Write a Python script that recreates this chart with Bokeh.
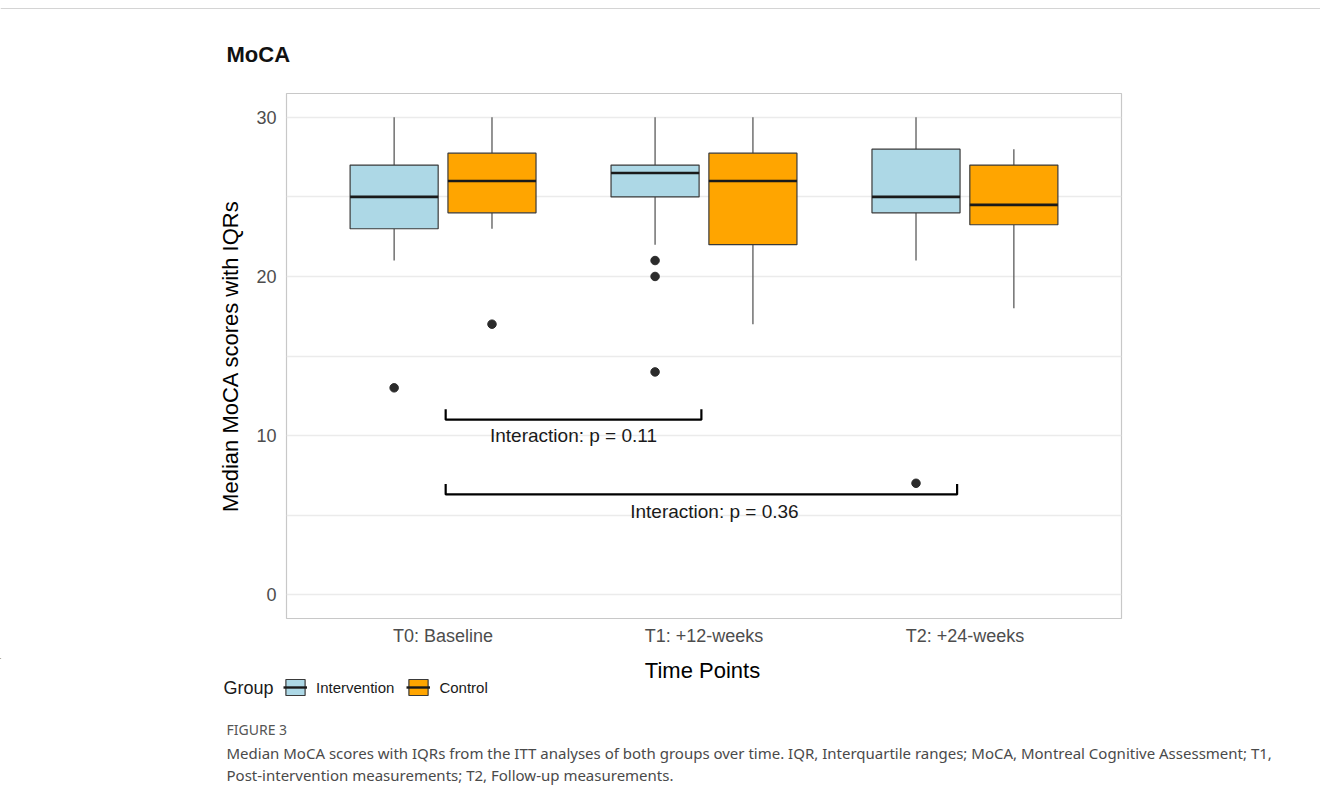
from bokeh.plotting import figure
from bokeh.layouts import column
from bokeh.models import (ColumnDataSource, FixedTicker, Label, Legend, LegendItem, Range1d)
from bokeh.embed import file_html
from bokeh.resources import INLINE
from bokeh.core.properties import value

# ---------------- data ----------------
time_points = ["T0: Baseline", "T1: +12-weeks", "T2: +24-weeks"]
groups = ["Intervention", "Control"]
group_colors = ["#ADD8E6", "#FFA500"]

int_lower = [21, 22, 21]
int_q1 = [23, 25, 24]
int_median = [25, 26.5, 25]
int_q3 = [27, 27, 28]
int_upper = [30, 30, 30]

ctl_lower = [23, 17, 18]
ctl_q1 = [24, 22, 23.25]
ctl_median = [26, 26, 24.5]
ctl_q3 = [27.75, 27.75, 27]
ctl_upper = [30, 30, 28]

int_outlier_time = [0, 1, 1, 1, 2]
int_outlier_value = [13, 21, 20, 14, 7]
ctl_outlier_time = [0]
ctl_outlier_value = [17]

interaction_labels = ["Interaction: p = 0.11", "Interaction: p = 0.36"]
bracket_start = [1.01, 1.01]
bracket_end = [1.99, 2.97]
bracket_y = [11.0, 6.3]
interaction_label_x = [1.5, 2.04]
interaction_label_y = [10.0, 5.2]

title_text = "MoCA"
figure_tag = "FIGURE 3"
caption_lines = [
    "Median MoCA scores with IQRs from the ITT analyses of both groups over time. "
    "IQR, Interquartile ranges; MoCA, Montreal Cognitive Assessment; T1,",
    "Post-intervention measurements; T2, Follow-up measurements.",
]

# ---------------- layout constants ----------------
FONT = "Liberation Sans"
CAP_FONT = "Noto Sans"
DODGE = 0.1875
BOX_W = 0.3375
TIP = 0.65
W = 1320
TOP_H = 91
MAIN_H = 567
BOT_H = 148


def plain_fig(h):
    f = figure(width=W, height=h, x_range=Range1d(0, W), y_range=Range1d(h, 0),
               output_backend="svg", toolbar_location=None, frame_align=False,
               min_border=0, min_border_left=0, min_border_right=0,
               min_border_top=0, min_border_bottom=0)
    f.axis.visible = False
    f.grid.visible = False
    f.outline_line_color = None
    return f


# ---------------- top strip: rule + title ----------------
top = plain_fig(TOP_H)
top.segment(x0=0, y0=8, x1=W, y1=8, line_color="#d4d4d4", line_width=1)
top.add_layout(Label(x=226, y=54, text=title_text, text_font=FONT, text_font_size="22px",
                     text_font_style="bold", text_color="#111111", text_baseline="middle"))

# ---------------- main chart ----------------
fig = figure(width=W, height=MAIN_H, x_range=Range1d(0.4, 3.6), y_range=Range1d(-1.5, 31.5),
             output_backend="svg", toolbar_location=None, frame_align=False,
             min_border_left=286, min_border_right=W - 1121, min_border_top=2, min_border_bottom=40)

fig.background_fill_color = "white"
fig.outline_line_color = "#c8c8c8"
fig.outline_line_width = 1.2

fig.xgrid.grid_line_color = None
fig.yaxis.ticker = FixedTicker(ticks=[0, 10, 20, 30], minor_ticks=[5, 15, 25])
fig.ygrid.grid_line_color = "#ebebeb"
fig.ygrid.grid_line_width = 1.3
fig.ygrid.minor_grid_line_color = "#ebebeb"
fig.ygrid.minor_grid_line_width = 1.3

fig.xaxis.ticker = FixedTicker(ticks=[1, 2, 3])
fig.xaxis.major_label_overrides = {i + 1: t for i, t in enumerate(time_points)}
for ax in (fig.xaxis[0], fig.yaxis[0]):
    ax.axis_line_color = None
    ax.major_tick_line_color = None
    ax.minor_tick_line_color = None
    ax.major_tick_out = 0
    ax.major_tick_in = 0
    ax.minor_tick_out = 0
    ax.minor_tick_in = 0
    ax.major_label_text_font = FONT
    ax.major_label_text_font_size = "18px"
    ax.major_label_text_color = "#4d4d4d"
    ax.axis_label_text_font = FONT
    ax.axis_label_text_font_size = "22px"
    ax.axis_label_text_font_style = "normal"
    ax.axis_label_text_color = "#000000"
fig.yaxis.axis_label = "Median MoCA scores with IQRs"
fig.xaxis.major_label_standoff = 7
fig.yaxis.major_label_standoff = 10
fig.yaxis.axis_label_standoff = 10

series = [
    (int_lower, int_q1, int_median, int_q3, int_upper, -DODGE, group_colors[0]),
    (ctl_lower, ctl_q1, ctl_median, ctl_q3, ctl_upper, DODGE, group_colors[1]),
]
for lower, q1, med, q3, upper, off, col in series:
    xs = [i + 1 + off for i in range(len(time_points))]
    src = ColumnDataSource(dict(x=xs, lower=lower, q1=q1, med=med, q3=q3, upper=upper,
                                xl=[x - BOX_W / 2 for x in xs], xr=[x + BOX_W / 2 for x in xs]))
    fig.segment(x0="x", y0="q3", x1="x", y1="upper", source=src, line_color="#5a5a5a", line_width=1.3)
    fig.segment(x0="x", y0="q1", x1="x", y1="lower", source=src, line_color="#5a5a5a", line_width=1.3)
    fig.vbar(x="x", width=BOX_W, bottom="q1", top="q3", source=src,
             fill_color=col, line_color="#3a3a3a", line_width=1.2)
    fig.segment(x0="xl", y0="med", x1="xr", y1="med", source=src,
                line_color="#1a1a1a", line_width=2.6)

fig.scatter(x=[t + 1 - DODGE for t in int_outlier_time], y=int_outlier_value,
            size=8.5, color="#2b2b2b")
fig.scatter(x=[t + 1 + DODGE for t in ctl_outlier_time], y=ctl_outlier_value,
            size=8.5, color="#2b2b2b")

fig.multi_line(xs=[[a, a, b, b] for a, b in zip(bracket_start, bracket_end)],
               ys=[[y + TIP, y, y, y + TIP] for y in bracket_y],
               line_color="#000000", line_width=2.2)
fig.text(x=interaction_label_x, y=interaction_label_y, text=interaction_labels,
         text_font=value(FONT), text_font_size="19px", text_color="#1a1a1a",
         text_align="center", text_baseline="middle")

# ---------------- bottom strip: x title, legend, caption ----------------
BT = TOP_H + MAIN_H  # page y of the bottom strip
bot = plain_fig(BOT_H)
bot.add_layout(Label(x=702, y=670 - BT, text="Time Points", text_font=FONT, text_font_size="22px",
                     text_color="#000000", text_align="center", text_baseline="middle"))
bot.add_layout(Label(x=223, y=687 - BT, text="Group", text_font=FONT, text_font_size="18px",
                     text_color="#1a1a1a", text_baseline="middle"))

# legend proxies (kept outside the visible range of this strip)
legend_items = []
for g, col in zip(groups, group_colors):
    proxy = ColumnDataSource(dict(x=[-500], y0=[-500], y1=[-499], xl=[-501], xr=[-499], m=[-499.5]))
    b = bot.vbar(x="x", width=1, bottom="y0", top="y1", source=proxy,
                 fill_color=col, line_color="#3a3a3a", line_width=1.2)
    m = bot.segment(x0="xl", y0="m", x1="xr", y1="m", source=proxy,
                    line_color="#1a1a1a", line_width=2.4)
    legend_items.append(LegendItem(label=g, renderers=[b, m]))

legend = Legend(items=legend_items, location=(283, BOT_H - (697 - BT)), orientation="horizontal")
legend.border_line_color = None
legend.background_fill_alpha = 0
legend.padding = 0
legend.margin = 0
legend.spacing = 12
legend.glyph_width = 24
legend.glyph_height = 20
legend.label_standoff = 9
legend.label_text_font = FONT
legend.label_text_font_size = "15px"
legend.label_text_color = "#1a1a1a"
bot.add_layout(legend)

bot.add_layout(Label(x=226, y=729 - BT, text=figure_tag, text_font=CAP_FONT,
                     text_font_size="14px", text_color="#555555", text_baseline="middle"))
for line, py in zip(caption_lines, [752, 774]):
    bot.add_layout(Label(x=226, y=py - BT, text=line, text_font=CAP_FONT, text_font_size="15px",
                         text_color="#4a4a4a", text_baseline="middle"))

p = column(top, fig, bot, spacing=0)
open("out.html", "w").write(file_html(p, INLINE))
